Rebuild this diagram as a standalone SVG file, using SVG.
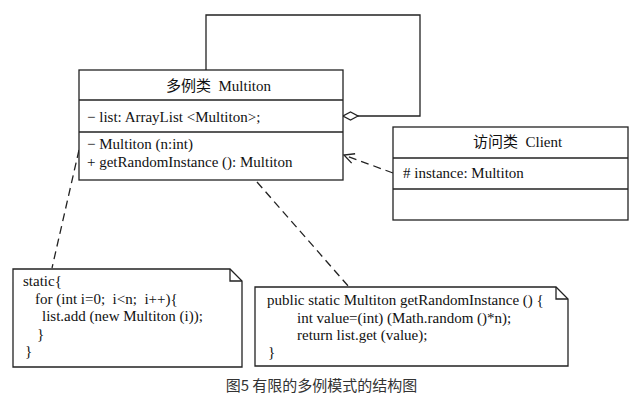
<svg xmlns="http://www.w3.org/2000/svg" width="643" height="408" viewBox="0 0 643 408">
<style>
.box{fill:#fff;stroke:#222;stroke-width:1.3}
.ln{fill:none;stroke:#222;stroke-width:1.3}
.dash{fill:none;stroke:#222;stroke-width:1.3;stroke-dasharray:8 5}
.t{font-family:"Liberation Serif","Noto Sans CJK SC",serif;font-size:15px;fill:#111;white-space:pre}
.cap{font-family:"Noto Sans CJK SC","Noto Sans",sans-serif;font-size:15px;fill:#333}
</style>
<defs>
<marker id="open" markerWidth="12" markerHeight="12" refX="11" refY="6" orient="auto" markerUnits="userSpaceOnUse">
<path d="M1,1 L11,6 L1,11" fill="none" stroke="#222" stroke-width="1.3"/>
</marker>
<marker id="diamond" markerWidth="17" markerHeight="10" refX="16" refY="5" orient="auto" markerUnits="userSpaceOnUse">
<path d="M1,5 L8.5,1 L16,5 L8.5,9 Z" fill="#fff" stroke="#222" stroke-width="1.2"/>
</marker>
</defs>
<rect width="643" height="408" fill="#fff"/>
<g id="connectors">
<path class="ln" d="M206,70 L206,15 L420,15 L420,116 L343,116" marker-end="url(#diamond)"/>
<path class="dash" d="M393,173 L344,155" marker-end="url(#open)"/>
<path class="dash" d="M79,150 L52,268"/>
<path class="dash" d="M257,182 L349,287"/>
</g>
<g id="multiton">
<rect class="box" x="79" y="70" width="264" height="110"/>
<line class="ln" x1="79" y1="100" x2="343" y2="100"/>
<line class="ln" x1="79" y1="132" x2="343" y2="132"/>
<text class="t" x="166" y="91">多例类  Multiton</text>
<text class="t" x="87" y="122">− list: ArrayList &lt;Multiton&gt;;</text>
<text class="t" x="87" y="149">− Multiton (n:int)</text>
<text class="t" x="87" y="167">+ getRandomInstance (): Multiton</text>
</g>
<g id="client">
<rect class="box" x="393" y="127" width="235" height="93"/>
<line class="ln" x1="393" y1="158" x2="628" y2="158"/>
<line class="ln" x1="393" y1="189" x2="628" y2="189"/>
<text class="t" x="473" y="147">访问类  Client</text>
<text class="t" x="403" y="178"># instance: Multiton</text>
</g>
<g id="note-static">
<path class="box" d="M13,269 L230,269 L242,281 L242,367 L13,367 Z"/>
<path class="ln" d="M230,269 L230,281 L242,281"/>
<text class="t" x="23" y="286">static{</text>
<text class="t" x="35" y="304">for (int i=0;  i&lt;n;  i++){</text>
<text class="t" x="42" y="321">list.add (new Multiton (i));</text>
<text class="t" x="37" y="339">}</text>
<text class="t" x="25" y="356">}</text>
</g>
<g id="note-random">
<path class="box" d="M255,287 L556,287 L568,299 L568,366 L255,366 Z"/>
<path class="ln" d="M556,287 L556,299 L568,299"/>
<text class="t" x="267" y="305">public static Multiton getRandomInstance () {</text>
<text class="t" x="297" y="323">int value=(int) (Math.random ()*n);</text>
<text class="t" x="297" y="340">return list.get (value);</text>
<text class="t" x="268" y="357">}</text>
</g>
<text class="cap" x="321.5" y="391" text-anchor="middle">图5 有限的多例模式的结构图</text>
</svg>
